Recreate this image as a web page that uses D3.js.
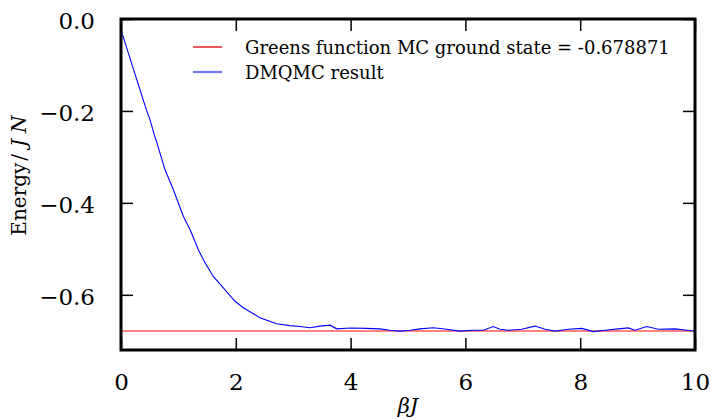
<!DOCTYPE html>
<html>
<head>
<meta charset="utf-8">
<script src="https://cdn.jsdelivr.net/npm/d3@7"></script>
<style>
  body { margin: 0; background: #fff; }
  svg { display: block; }
</style>
</head>
<body>
<div id="chart"></div>
<script>
// values
const beta = [0, 0.448, 0.505, 0.58, 0.61, 0.767, 0.911, 1.085, 1.202, 1.277, 1.347, 1.463,
  1.608, 1.782, 1.986, 2.131, 2.42, 2.71, 2.944, 3.118, 3.293, 3.467, 3.641, 3.758, 3.99,
  4.28, 4.512, 4.686, 4.861, 5.035, 5.209, 5.441, 5.674, 5.906, 6.138, 6.312, 6.486, 6.603,
  6.747, 6.981, 7.213, 7.387, 7.561, 7.793, 8.026, 8.228, 8.432, 8.664, 8.838, 8.955, 9.159,
  9.361, 9.652, 9.942, 10]
const energy = [-0.024, -0.200, -0.219, -0.252, -0.263, -0.328, -0.371, -0.429, -0.458, -0.480,
  -0.502, -0.530, -0.560, -0.585, -0.614, -0.628, -0.650, -0.663, -0.667, -0.669, -0.6715,
  -0.668, -0.666, -0.674, -0.672, -0.673, -0.674, -0.677, -0.679, -0.677, -0.674, -0.6715,
  -0.675, -0.679, -0.677, -0.677, -0.669, -0.675, -0.677, -0.675, -0.668, -0.675, -0.679,
  -0.675, -0.673, -0.680, -0.677, -0.674, -0.672, -0.677, -0.669, -0.675, -0.674, -0.678, -0.679]
const groundState = -0.678871
const xTicks = [0, 2, 4, 6, 8, 10]
const yTicks = [0, -0.2, -0.4, -0.6]
const legendLabels = ["Greens function MC ground state = -0.678871", "DMQMC result"]

const serif = "'DejaVu Serif', serif"
const width = 711, height = 419
const margin = { top: 19, right: 16, bottom: 69, left: 121 }
const bw = width - margin.left - margin.right
const bh = height - margin.top - margin.bottom

const svg = d3.select("#chart").append("svg")
  .attr("width", width)
  .attr("height", height)

const x = d3.scaleLinear().domain([0, 10]).range([0, bw])
const y = d3.scaleLinear().domain([-0.72, 0]).range([bh, 0])

const bounds = svg.append("g")
  .attr("transform", `translate(${margin.left},${margin.top})`)

bounds.append("clipPath").attr("id", "clip")
  .append("rect").attr("width", bw).attr("height", bh)

const plot = bounds.append("g").attr("clip-path", "url(#clip)")

// ground state line
plot.append("line")
  .attr("x1", 0).attr("x2", bw)
  .attr("y1", y(groundState)).attr("y2", y(groundState))
  .attr("stroke", "#ff5a5a")
  .attr("stroke-width", 1.5)

// DMQMC curve
const line = d3.line()
  .x((d, i) => x(beta[i]))
  .y(d => y(d))

plot.append("path")
  .attr("d", line(energy))
  .attr("fill", "none")
  .attr("stroke", "#0000ff")
  .attr("stroke-width", 1.1)

// axes, ticks inward on every side
const fmt = d => d === 0 ? "0.0" : d3.format(".1f")(d).replace("-", "\u2212")

const xAxis = bounds.append("g")
  .attr("transform", `translate(0,${bh})`)
  .call(d3.axisBottom(x).tickValues(xTicks).tickSize(-12).tickPadding(24).tickFormat(d3.format("d")))
const xTop = bounds.append("g")
  .call(d3.axisTop(x).tickValues(xTicks).tickSize(-12).tickFormat(""))
const yAxis = bounds.append("g")
  .call(d3.axisLeft(y).tickValues(yTicks).tickSize(-12).tickPadding(26).tickFormat(fmt))
const yRight = bounds.append("g")
  .attr("transform", `translate(${bw},0)`)
  .call(d3.axisRight(y).tickValues(yTicks).tickSize(-12).tickFormat(""))

for (const g of [xAxis, xTop, yAxis, yRight]) {
  g.select(".domain").remove()
  g.selectAll(".tick line").attr("stroke", "#000").attr("stroke-width", 1.5)
  g.selectAll("text")
    .style("font-family", serif)
    .attr("font-size", 23)
    .attr("fill", "#000")
}
yAxis.selectAll("text").attr("dy", "0.42em")
xAxis.selectAll("text").attr("dy", "0.71em")

// frame
bounds.append("rect")
  .attr("width", bw).attr("height", bh)
  .attr("fill", "none")
  .attr("stroke", "#000")
  .attr("stroke-width", 3)

// axis labels
svg.append("text")
  .attr("x", margin.left + bw / 2)
  .attr("y", 413)
  .attr("text-anchor", "middle")
  .style("font-family", serif)
  .attr("font-size", 21)
  .attr("font-style", "italic")
  .text("\u03b2J")

// math-style spacing in "Energy/ J N"
svg.append("text")
  .attr("transform", `translate(26,${margin.top + bh / 2 - 9}) rotate(-90)`)
  .attr("text-anchor", "middle")
  .style("font-family", serif)
  .attr("font-size", 20)
  .call(t => {
    t.append("tspan").text("Energy")
    t.append("tspan").attr("dx", 2).text("/")
    t.append("tspan").attr("dx", 7).attr("font-style", "italic").text("J")
    t.append("tspan").attr("dx", 6).attr("font-style", "italic").text("N")
  })

// legend
const legend = svg.append("g")
const legendColors = ["#e00000", "#7878ff"]
const legendWidths = [1.3, 2.2]
legendLabels.forEach((label, i) => {
  const ly = 47 + i * 25
  legend.append("line")
    .attr("x1", 193).attr("x2", 222)
    .attr("y1", ly).attr("y2", ly)
    .attr("stroke", legendColors[i])
    .attr("stroke-width", legendWidths[i])
  legend.append("text")
    .attr("x", 245).attr("y", ly + 7)
    .style("font-family", serif)
    .attr("font-size", 18)
    .text(label)
})
</script>
</body>
</html>
